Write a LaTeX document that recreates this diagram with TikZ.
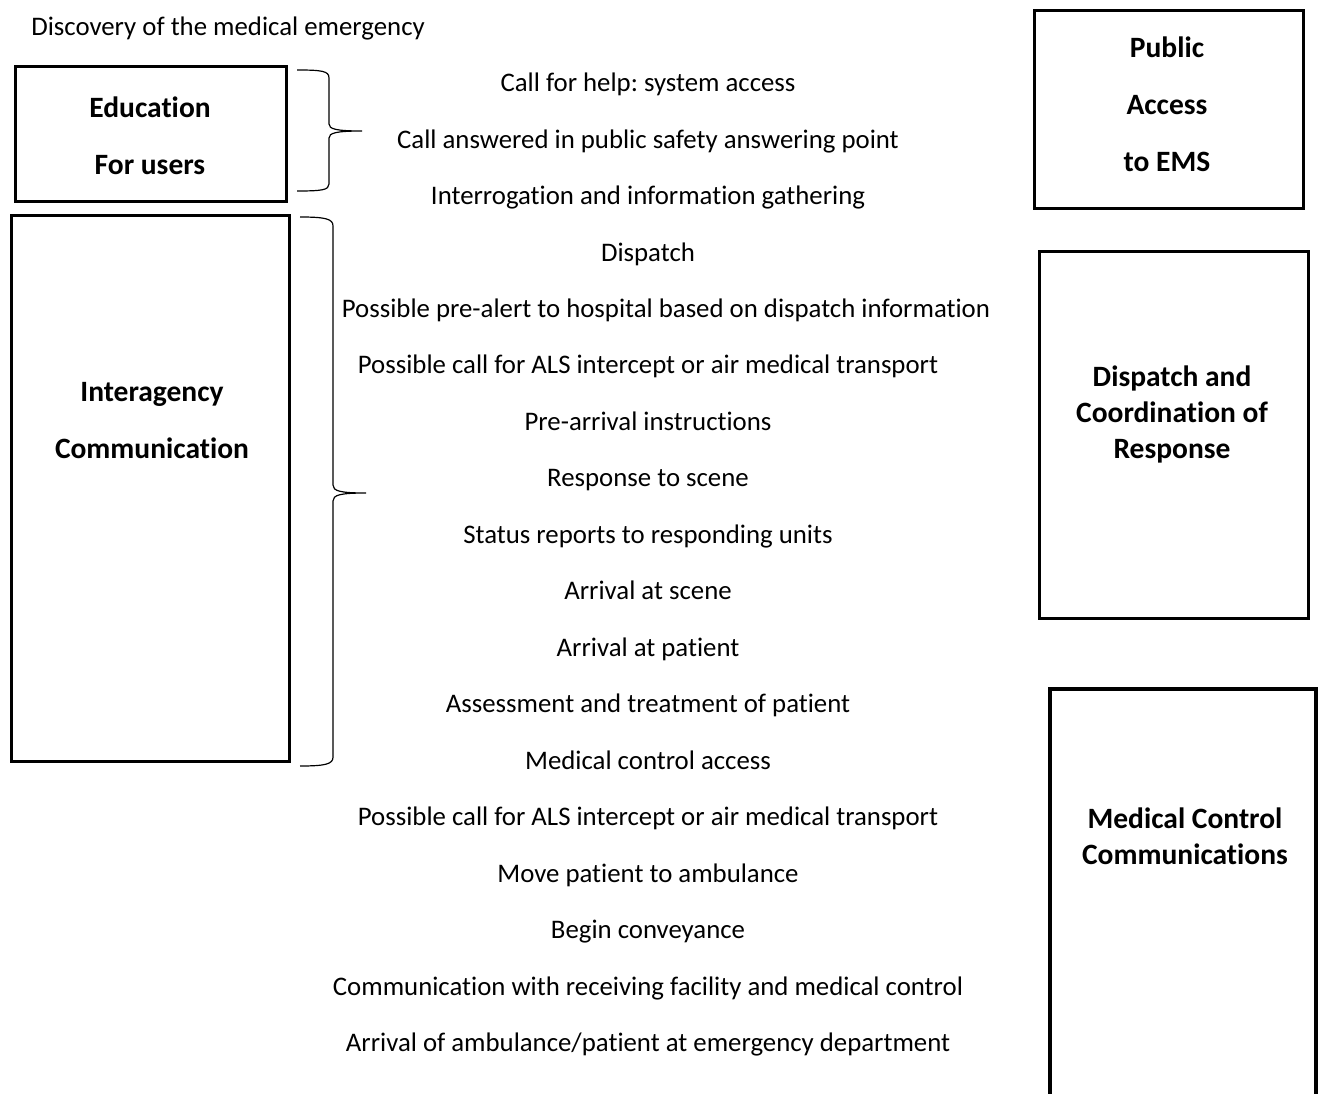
\documentclass[tikz,border=0pt]{standalone}
\usepackage{fontspec}
\setmainfont{Carlito}[Ligatures=CommonOff]
\frenchspacing
\begin{document}
\begin{tikzpicture}[x=1pt,y=-1pt,
  txt/.style={inner sep=0pt,text height=18pt,text depth=6pt,yshift=-3.5pt,font=\fontsize{26.8}{32}\selectfont},
  btxt/.style={inner sep=0pt,text height=20pt,text depth=7pt,yshift=-3.5pt,font=\fontsize{29.5}{35}\selectfont\bfseries},
  frame/.style={draw=black,line width=3.5pt,inner sep=0pt},
  brace/.style={draw=black,line width=1.2pt}]
\useasboundingbox (0,0) rectangle (1318,1094);
% boxes
\node[frame,minimum width=271pt,minimum height=135pt] (edu) at (151,134) {};
\node[frame,minimum width=278pt,minimum height=546pt] (inter) at (150.5,488.5) {};
\node[frame,minimum width=269pt,minimum height=198pt] (pub) at (1169,109.5) {};
\node[frame,minimum width=269pt,minimum height=367pt] (disp) at (1174,435) {};
\coordinate (mcbl) at (1050,1110);
\coordinate (mctl) at (1050,689);
\coordinate (mctr) at (1316,689);
\coordinate (mcbr) at (1316,1110);
\draw[line width=3.5pt] (mcbl) -- (mctl) -- (mctr) -- (mcbr);
% box labels
\node[btxt] (l1) at (150,108) {Education};
\node[btxt] (l2) at (150,165) {For users};
\node[btxt] (l3) at (152,391) {Interagency};
\node[btxt] (l4) at (152,448) {Communication};
\node[btxt] (l5) at (1167,48) {Public};
\node[btxt] (l6) at (1167,105) {Access};
\node[btxt] (l7) at (1167,162) {to EMS};
\node[btxt] (l8) at (1172,376) {Dispatch and};
\node[btxt] (l9) at (1172,412) {Coordination of};
\node[btxt] (l10) at (1172,448) {Response};
\node[btxt] (l11) at (1185,818) {Medical Control};
\node[btxt] (l12) at (1185,854) {Communications};
% step texts
\node[txt] (t0) at (228,26) {Discovery of the medical emergency};
\node[txt] (t1) at (648,82) {Call for help: system access};
\node[txt] (t2) at (648,139) {Call answered in public safety answering point};
\node[txt] (t3) at (648,195) {Interrogation and information gathering};
\node[txt] (t4) at (648,252) {Dispatch};
\node[txt] (t5) at (666,308) {Possible pre-alert to hospital based on dispatch information};
\node[txt] (t6) at (648,364) {Possible call for ALS intercept or air medical transport};
\node[txt] (t7) at (648,421) {Pre-arrival instructions};
\node[txt] (t8) at (648,477) {Response to scene};
\node[txt] (t9) at (648,534) {Status reports to responding units};
\node[txt] (t10) at (648,590) {Arrival at scene};
\node[txt] (t11) at (648,647) {Arrival at patient};
\node[txt] (t12) at (648,703) {Assessment and treatment of patient};
\node[txt] (t13) at (648,760) {Medical control access};
\node[txt] (t14) at (648,816) {Possible call for ALS intercept or air medical transport};
\node[txt] (t15) at (648,873) {Move patient to ambulance};
\node[txt] (t16) at (648,929) {Begin conveyance};
\node[txt] (t17) at (648,986) {Communication with receiving facility and medical control};
\node[txt] (t18) at (648,1042) {Arrival of ambulance/patient at emergency department};
% braces
\draw[brace] (297,70) .. controls (322,70) and (329,71) .. (329,78)
  -- (329,124) .. controls (329,129) and (336,131) .. (362,131)
  .. controls (336,131) and (329,133) .. (329,138)
  -- (329,184) .. controls (329,190) and (322,191) .. (297,191);
\draw[brace] (300,217) .. controls (326,217) and (333,219) .. (333,226)
  -- (333,485) .. controls (333,491) and (340,493) .. (366,493)
  .. controls (340,493) and (333,495) .. (333,501)
  -- (333,757) .. controls (333,764) and (326,766) .. (300,766);
\end{tikzpicture}
\end{document}
